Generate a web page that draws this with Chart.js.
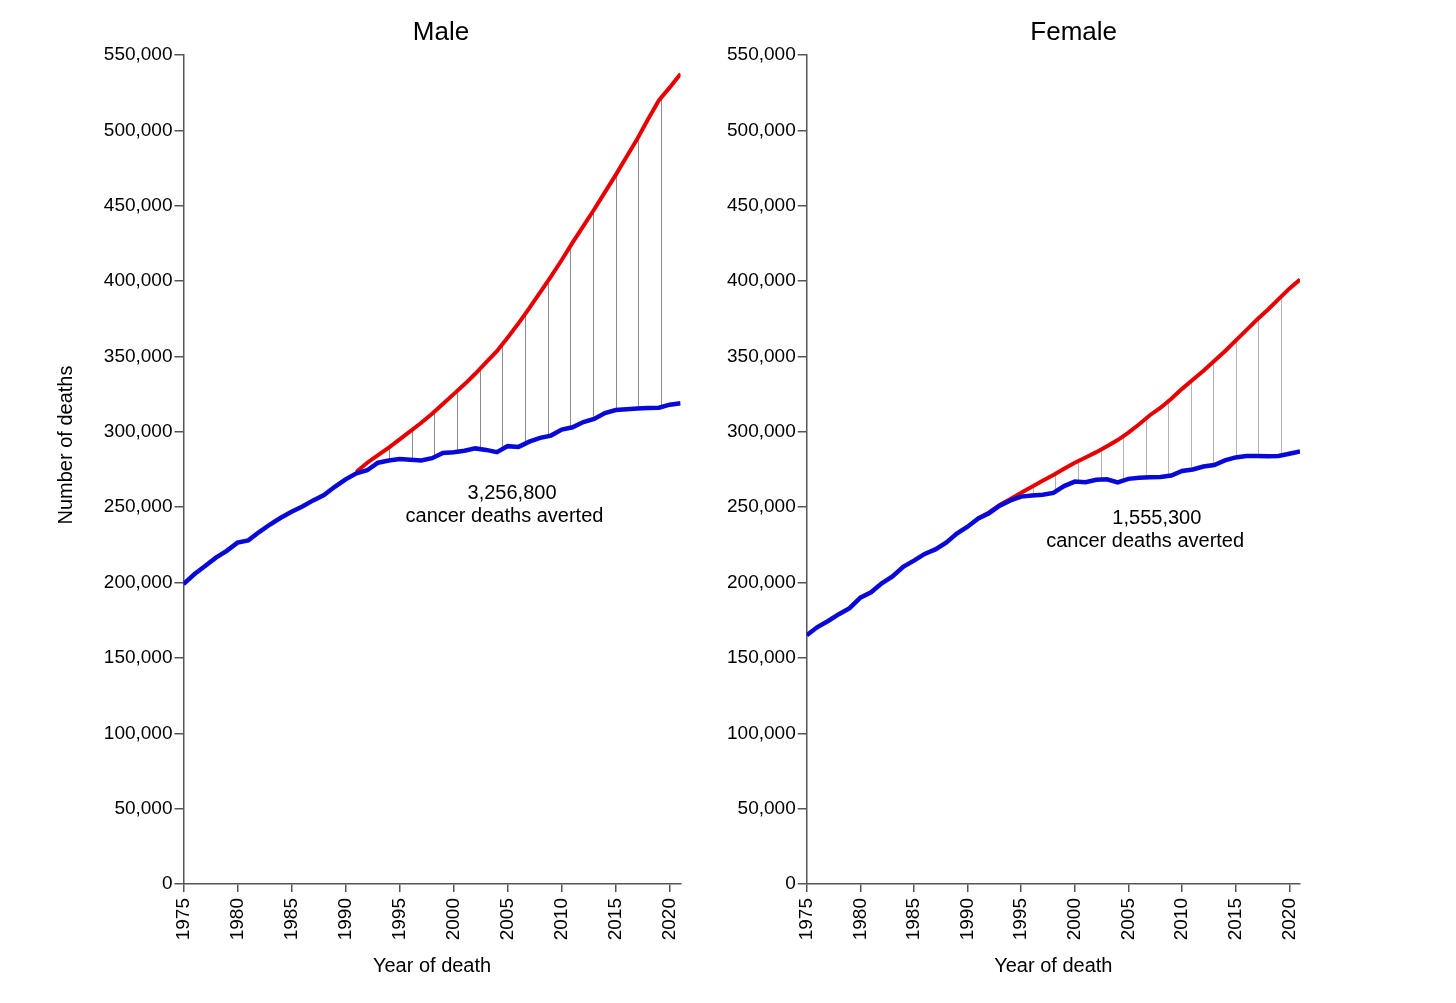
<!DOCTYPE html>
<html>
<head>
<meta charset="utf-8">
<script src="https://cdn.jsdelivr.net/npm/chart.js@4.4.1/dist/chart.umd.min.js"></script>
<style>
  body { margin: 0; background: #fff; }
  .box { position: absolute; top: 0; height: 1003px; }
  #maleBox { left: 0; width: 700px; }
  #femaleBox { left: 700px; width: 756px; }
</style>
</head>
<body>
<div class="box" id="maleBox"><canvas id="male"></canvas></div>
<div class="box" id="femaleBox"><canvas id="female"></canvas></div>
<script>
const years = [1975, 1976, 1977, 1978, 1979, 1980, 1981, 1982, 1983, 1984,
  1985, 1986, 1987, 1988, 1989, 1990, 1991, 1992, 1993, 1994,
  1995, 1996, 1997, 1998, 1999, 2000, 2001, 2002, 2003, 2004,
  2005, 2006, 2007, 2008, 2009, 2010, 2011, 2012, 2013, 2014,
  2015, 2016, 2017, 2018, 2019, 2020, 2021];

// observed deaths (blue)
const maleObserved = [199000, 205500, 211000, 216500, 221000, 226500, 228000, 233500, 238500, 243000,
  247000, 250500, 254500, 258000, 263500, 268500, 272500, 274500, 279500, 281000,
  282000, 281500, 281000, 282500, 286000, 286500, 287500, 289000, 288000, 286500,
  290500, 290000, 293500, 296000, 297500, 301500, 303000, 306500, 308500, 312500,
  314500, 315000, 315500, 315800, 316000, 318000, 319000];

// expected deaths if rates stayed at peak (red)
const maleExpected = [null, null, null, null, null, null, null, null, null, null,
  null, null, null, null, null, null, 273500, 279500, 284500, 289500,
  295000, 300500, 306000, 312000, 318500, 325000, 331500, 338500, 346000, 353500,
  362500, 372000, 382000, 392500, 403000, 414000, 425500, 436500, 447500, 459000,
  470500, 482500, 494500, 507500, 520000, 528500, 537500];

const femaleObserved = [165000, 170500, 174500, 179000, 183000, 190000, 193500, 199500, 204000, 210500,
  214500, 219000, 222000, 226500, 232500, 237000, 242500, 246000, 251000, 254500,
  257000, 257800, 258300, 259500, 264000, 267000, 266500, 268200, 268500, 266500,
  268800, 269500, 269800, 270000, 271000, 274000, 275000, 277000, 278000, 281000,
  283000, 284000, 284000, 283800, 284000, 285500, 287000];

const femaleExpected = [null, null, null, null, null, null, null, null, null, null,
  null, null, null, null, null, null, 242500, 246500, 251500, 255500,
  259500, 263500, 267500, 271300, 275500, 279500, 283000, 286500, 290500, 294500,
  299500, 305000, 311000, 316000, 322000, 328500, 334500, 340500, 347000, 353500,
  360500, 367500, 374500, 381000, 388000, 395000, 401000];

// years where the grey connector lines sit
const dropYears = [1994.0, 1996.1, 1998.2, 2000.3, 2002.4, 2004.5, 2006.6, 2008.7, 2010.8, 2012.9, 2015.0, 2017.1, 2019.2];

const averted = { male: '3,256,800', female: '1,555,300' };

Chart.defaults.font.family = "'Liberation Sans', Arial, sans-serif";
Chart.defaults.color = '#000';

function toPoints(vals) {
  const pts = [];
  vals.forEach((v, i) => { if (v !== null) pts.push({ x: years[i], y: v }); });
  return pts;
}

function valueAt(vals, x) {
  for (let i = 0; i < years.length - 1; i++) {
    if (x >= years[i] && x <= years[i + 1] && vals[i] !== null && vals[i + 1] !== null) {
      const t = (x - years[i]) / (years[i + 1] - years[i]);
      return vals[i] + t * (vals[i + 1] - vals[i]);
    }
  }
  return null;
}

const dropLines = {
  id: 'dropLines',
  beforeDatasetsDraw(chart, args, opts) {
    const { ctx, scales: { x, y } } = chart;
    ctx.save();
    ctx.strokeStyle = opts.color;
    ctx.lineWidth = 1;
    opts.years.forEach(yr => {
      const top = valueAt(opts.upper, yr);
      const bot = valueAt(opts.lower, yr);
      if (top === null || bot === null) return;
      const px = Math.round(x.getPixelForValue(yr)) + 0.5;
      ctx.beginPath();
      ctx.moveTo(px, y.getPixelForValue(top));
      ctx.lineTo(px, y.getPixelForValue(bot));
      ctx.stroke();
    });
    ctx.restore();
  }
};

const texts = {
  id: 'texts',
  afterDraw(chart, args, opts) {
    const { ctx, scales: { x, y } } = chart;
    ctx.save();
    ctx.fillStyle = '#000';
    ctx.textAlign = 'center';
    ctx.textBaseline = 'middle';
    opts.items.forEach(it => {
      let px = it.px, py = it.py;
      if (it.year !== undefined) { px = x.getPixelForValue(it.year); py = y.getPixelForValue(it.value); }
      ctx.font = it.size + "px 'Liberation Sans', Arial, sans-serif";
      ctx.save();
      ctx.translate(px, py);
      if (it.rotate) ctx.rotate(it.rotate);
      ctx.fillText(it.text, 0, 0);
      ctx.restore();
    });
    ctx.restore();
  }
};

function makeChart(id, observed, expected, yAxisWidth, padRight, items, dropColor) {
  const config = {
    type: 'line',
    data: {
      datasets: [{
        label: 'Observed',
        data: toPoints(observed),
        borderColor: '#0808d8',
        borderWidth: 4.5,
        pointRadius: 0,
        tension: 0,
        order: 0
      }, {
        label: 'Expected',
        data: toPoints(expected),
        borderColor: '#e60000',
        borderWidth: 4,
        pointRadius: 0,
        tension: 0,
        order: 1
      }]
    },
    options: {
      responsive: true,
      maintainAspectRatio: false,
      animation: false,
      layout: { padding: { top: 55, right: padRight, bottom: 0, left: 0 } },
      plugins: {
        legend: { display: false },
        tooltip: { enabled: false },
        dropLines: { years: dropYears, upper: expected, lower: observed, color: dropColor },
        texts: { items: items }
      },
      scales: {
        x: {
          type: 'linear',
          min: 1975,
          max: 2021,
          afterFit(scale) { scale.height = 119; },
          afterBuildTicks(scale) {
            scale.ticks = [1975, 1980, 1985, 1990, 1995, 2000, 2005, 2010, 2015, 2020].map(v => ({ value: v }));
          },
          ticks: {
            callback: v => String(v),
            minRotation: 90,
            maxRotation: 90,
            padding: 6,
            font: { size: 19 }
          },
          grid: { drawOnChartArea: false, drawTicks: true, tickLength: 8, color: '#555', lineWidth: 1.5 },
          border: { display: true, color: '#555', width: 1.5 },
          title: { display: true, text: 'Year of death', font: { size: 20 }, padding: { top: 0, bottom: 25 } }
        },
        y: {
          min: 0,
          max: 550000,
          afterFit(scale) { scale.width = yAxisWidth; },
          ticks: {
            stepSize: 50000,
            padding: 2,
            font: { size: 19 },
            callback: v => v.toLocaleString('en-US')
          },
          grid: { drawOnChartArea: false, drawTicks: true, tickLength: 9, color: '#555', lineWidth: 1.5 },
          border: { display: true, color: '#555', width: 1.5 }
        }
      }
    },
    plugins: [dropLines, texts]
  };
  return new Chart(document.getElementById(id), config);
}

makeChart('male', maleObserved, maleExpected, 183.5, 19.4, [
  { text: 'Male', px: 441, py: 33, size: 26 },
  { text: 'Number of deaths', px: 66, py: 445, size: 20, rotate: -Math.PI / 2 },
  { text: averted.male, year: 2005.4, value: 259100, size: 20 },
  { text: 'cancer deaths averted', year: 2004.7, value: 243500, size: 20 }
], '#8c8c8c');

makeChart('female', femaleObserved, femaleExpected, 106.7, 156, [
  { text: 'Female', px: 373.7, py: 33, size: 26 },
  { text: averted.female, year: 2007.65, value: 242500, size: 20 },
  { text: 'cancer deaths averted', year: 2006.56, value: 227100, size: 20 }
], '#b4b4b4');
</script>
</body>
</html>
